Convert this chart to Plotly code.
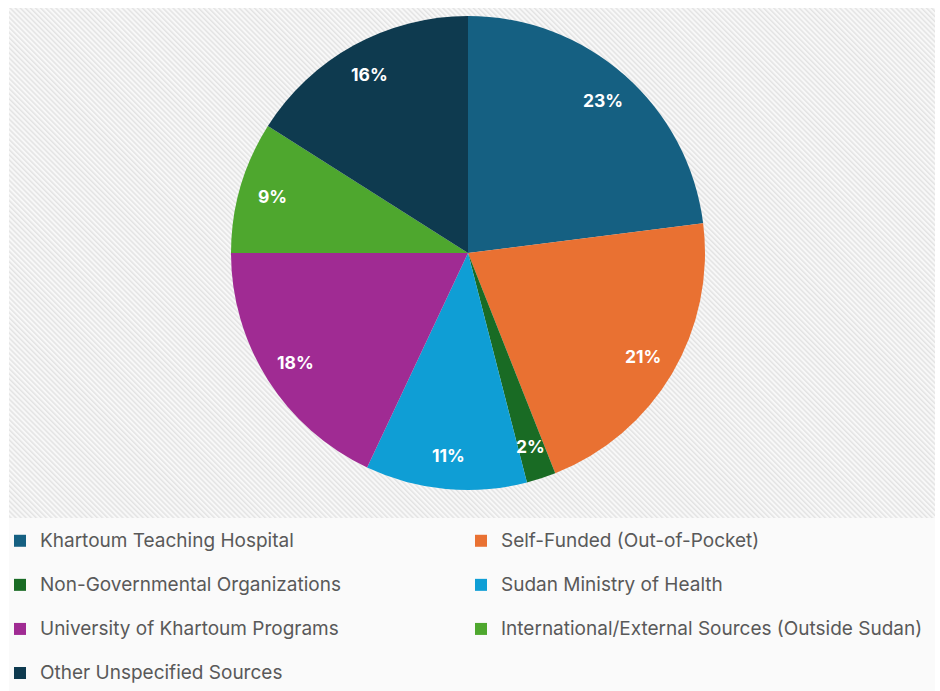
import base64
import math
import plotly.graph_objects as go

# ---- data ----
labels = [
    "Khartoum Teaching Hospital",
    "Self-Funded (Out-of-Pocket)",
    "Non-Governmental Organizations",
    "Sudan Ministry of Health",
    "University of Khartoum Programs",
    "International/External Sources (Outside Sudan)",
    "Other Unspecified Sources",
]
values = [23, 21, 2, 11, 18, 9, 16]
colors = ["#156082", "#E97132", "#196B24", "#0F9ED5", "#A02B93", "#4EA72E", "#0E3A4F"]

W, H = 940, 691

# pie placement (pixels)
CX, CY, R = 468, 253, 237
dom_x = [(CX - R) / W, (CX + R) / W]
dom_y = [1 - (CY + R) / H, 1 - (CY - R) / H]

# hatched background as an svg pattern
svg = (
    '<svg xmlns="http://www.w3.org/2000/svg" width="926" height="510">'
    '<defs><pattern id="p" patternUnits="userSpaceOnUse" width="3.6" height="3.6" '
    'patternTransform="rotate(-45)">'
    '<rect width="3.6" height="3.6" fill="#f8f8f8"/>'
    '<rect width="1.5" height="3.6" fill="#e3e3e3"/>'
    '</pattern></defs>'
    '<rect width="926" height="510" fill="url(#p)"/></svg>'
)
src = "data:image/svg+xml;base64," + base64.b64encode(svg.encode()).decode()

legend_labels = [f"<span style='font-size:19px'>{l}</span><br> " for l in labels]

fig = go.Figure(
    go.Pie(
        labels=legend_labels,
        values=values,
        sort=False,
        direction="clockwise",
        rotation=0,
        marker=dict(colors=colors, line=dict(width=0)),
        textinfo="none",
        domain=dict(x=dom_x, y=dom_y),
        hoverinfo="percent",
    )
)

# percentage labels placed inside each slice, derived from the values
total = sum(values)
annotations = []
cum = 0
for v in values:
    mid = (cum + v / 2) / total * 2 * math.pi
    cum += v
    px = CX + 0.86 * R * math.sin(mid)
    py = CY - 0.86 * R * math.cos(mid)
    annotations.append(
        dict(
            x=px / W,
            y=1 - py / H,
            xref="paper",
            yref="paper",
            text=f"{round(v / total * 100)}%",
            showarrow=False,
            font=dict(family="Inter, Open Sans, sans-serif", size=17.5, color="white", weight="bold"),
            xanchor="center",
            yanchor="middle",
        )
    )

fig.update_layout(
    width=W,
    height=H,
    margin=dict(l=0, r=0, t=0, b=0, autoexpand=False),
    paper_bgcolor="white",
    plot_bgcolor="white",
    showlegend=True,
    annotations=annotations,
    legend=dict(
        orientation="h",
        x=0,
        xanchor="left",
        y=1 - 524 / H,
        yanchor="top",
        entrywidth=416,
        entrywidthmode="pixels",
        valign="top",
        font=dict(family="Inter, Open Sans, sans-serif", size=15.8, color="#595959"),
        bgcolor="rgba(0,0,0,0)",
        traceorder="normal",
    ),
    images=[
        dict(
            source=src,
            xref="paper",
            yref="paper",
            x=9 / W,
            y=1 - 8 / H,
            sizex=926 / W,
            sizey=510 / H,
            xanchor="left",
            yanchor="top",
            sizing="stretch",
            layer="below",
        )
    ],
    shapes=[
        dict(
            type="rect",
            xref="paper",
            yref="paper",
            x0=9 / W,
            x1=935 / W,
            y0=0,
            y1=1 - 518 / H,
            fillcolor="#fafafa",
            line=dict(width=0),
            layer="below",
        )
    ],
)

fig.write_html("out.html")
